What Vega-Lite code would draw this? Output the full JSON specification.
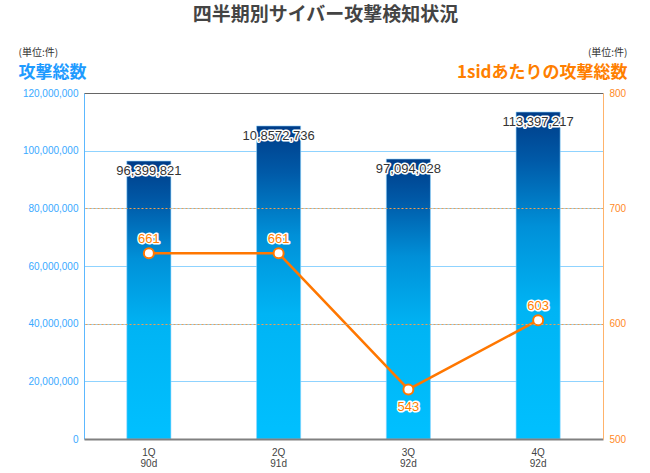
{
  "$schema": "https://vega.github.io/schema/vega-lite/v6.json",
  "width": 519,
  "height": 346,
  "autosize": {"type": "none"},
  "padding": {"left": 84, "top": 93, "right": 47, "bottom": 34},
  "background": "white",
  "view": {"stroke": null},
  "config": {"font": "Liberation Sans"},
  "title": {
    "text": "四半期別サイバー攻撃検知状況",
    "font": "Noto Sans CJK JP",
    "fontSize": 19,
    "fontWeight": "bold",
    "color": "#444444",
    "anchor": "middle",
    "frame": "group",
    "dx": -18,
    "offset": 3,
    "baseline": "bottom"
  },
  "data": {
    "values": [
      {"quarter": "1Q 90d", "attacks": 96399821, "label": "96,399,821", "perSid": 661},
      {"quarter": "2Q 91d", "attacks": 108572736, "label": "10,8572,736", "perSid": 661},
      {"quarter": "3Q 92d", "attacks": 97094028, "label": "97,094,028", "perSid": 543},
      {"quarter": "4Q 92d", "attacks": 113397217, "label": "113,397,217", "perSid": 603}
    ]
  },
  "resolve": {"scale": {"x": "independent", "y": "independent"}},
  "layer": [
    {
      "encoding": {
        "x": {
          "field": "quarter",
          "type": "nominal",
          "sort": null,
          "scale": {"paddingInner": 0.66, "paddingOuter": 0.33},
          "axis": {
            "orient": "bottom",
            "labelExpr": "split(datum.label, ' ')",
            "labelAngle": 0,
            "labelColor": "#444444",
            "labelFontSize": 10,
            "labelLineHeight": 11,
            "labelPadding": 8,
            "ticks": false,
            "domainColor": "#808080",
            "domainWidth": 2,
            "title": "(単位:件)",
            "titleFont": "Noto Sans CJK JP",
            "titleFontSize": 10,
            "titleFontWeight": "normal",
            "titleColor": "#333333",
            "titleX": -66,
            "titleY": -387,
            "titleAlign": "left",
            "titleAngle": 0,
            "titleBaseline": "middle",
            "zindex": 1
          }
        },
        "y": {
          "field": "attacks",
          "type": "quantitative",
          "scale": {"domain": [0, 120000000], "nice": false},
          "axis": {
            "orient": "left",
            "values": [0, 20000000, 40000000, 60000000, 80000000, 100000000, 120000000],
            "format": ",d",
            "labelColor": "#39a9ff",
            "labelFontSize": 10,
            "labelPadding": 6,
            "ticks": false,
            "domainColor": "#5cb8ff",
            "domainWidth": 1,
            "grid": true,
            "gridColor": {"condition": {"test": "datum.value == 0 || datum.value == 120000000", "value": "transparent"}, "value": "#8fd3ff"},
            "gridWidth": 1,
            "title": "攻撃総数",
            "titleFont": "Noto Sans CJK JP",
            "titleFontSize": 17,
            "titleFontWeight": "bold",
            "titleColor": "#1e9bff",
            "titleX": -66,
            "titleY": -21,
            "titleAngle": 0,
            "titleAlign": "left",
            "titleBaseline": "middle"
          }
        }
      },
      "layer": [
        {
          "mark": {
            "type": "bar",
            "stroke": "#8fd3ff",
            "strokeWidth": 0.6,
            "color": {
              "gradient": "linear",
              "x1": 0, "y1": 0, "x2": 0, "y2": 1,
              "stops": [
                {"offset": 0, "color": "#003c87"},
                {"offset": 0.15, "color": "#005aa8"},
                {"offset": 0.35, "color": "#0090d8"},
                {"offset": 0.6, "color": "#00b4f4"},
                {"offset": 1, "color": "#00c0ff"}
              ]
            }
          }
        },
        {
          "mark": {"type": "text", "dy": 14, "baseline": "alphabetic", "fontSize": 13, "stroke": "white", "strokeWidth": 3, "strokeJoin": "round", "fill": "white"},
          "encoding": {"text": {"field": "label"}}
        },
        {
          "mark": {"type": "text", "dy": 14, "baseline": "alphabetic", "fontSize": 13, "fill": "#333333"},
          "encoding": {"text": {"field": "label"}}
        }
      ]
    },
    {
      "encoding": {
        "x": {
          "field": "quarter",
          "type": "nominal",
          "sort": null,
          "scale": {"paddingInner": 0.66, "paddingOuter": 0.33},
          "axis": {
            "orient": "top",
            "labels": false,
            "ticks": false,
            "domainColor": "#666666",
            "domainWidth": 1,
            "title": "(単位:件)",
            "titleFont": "Noto Sans CJK JP",
            "titleFontSize": 10,
            "titleFontWeight": "normal",
            "titleColor": "#333333",
            "titleX": 543,
            "titleY": -41,
            "titleAlign": "right",
            "titleAngle": 0,
            "titleBaseline": "middle",
            "zindex": 1
          }
        },
        "y": {
          "field": "perSid",
          "type": "quantitative",
          "scale": {"domain": [500, 800], "nice": false},
          "axis": {
            "orient": "right",
            "values": [500, 600, 700, 800],
            "labelColor": "#ff8a1f",
            "labelFontSize": 10,
            "labelPadding": 6,
            "ticks": false,
            "domainColor": "#ffb36b",
            "domainWidth": 1,
            "grid": true,
            "gridColor": {"condition": {"test": "datum.value == 500 || datum.value == 800", "value": "transparent"}, "value": "#f0a050"},
            "gridDash": [2, 2],
            "gridWidth": 1,
            "title": "1sidあたりの攻撃総数",
            "titleFont": "Noto Sans CJK JP",
            "titleFontSize": 17,
            "titleFontWeight": "bold",
            "titleColor": "#ff7f00",
            "titleX": 24,
            "titleY": -21,
            "titleAngle": 0,
            "titleAlign": "right",
            "titleBaseline": "middle",
            "zindex": 1
          }
        }
      },
      "layer": [
        {"mark": {"type": "line", "color": "#ff7700", "strokeWidth": 2.5}},
        {"mark": {"type": "point", "shape": "circle", "filled": true, "fill": "white", "stroke": "#ff7700", "strokeWidth": 2, "size": 100, "opacity": 1}},
        {
          "transform": [{"filter": "datum.perSid >= 600"}],
          "mark": {"type": "text", "dy": -10, "baseline": "alphabetic", "fontSize": 13, "stroke": "white", "strokeWidth": 3, "strokeJoin": "round", "fill": "white"},
          "encoding": {"text": {"field": "perSid"}}
        },
        {
          "transform": [{"filter": "datum.perSid >= 600"}],
          "mark": {"type": "text", "dy": -10, "baseline": "alphabetic", "fontSize": 13, "fill": "#ff7f00"},
          "encoding": {"text": {"field": "perSid"}}
        },
        {
          "transform": [{"filter": "datum.perSid < 600"}],
          "mark": {"type": "text", "dy": 22, "baseline": "alphabetic", "fontSize": 13, "stroke": "white", "strokeWidth": 3, "strokeJoin": "round", "fill": "white"},
          "encoding": {"text": {"field": "perSid"}}
        },
        {
          "transform": [{"filter": "datum.perSid < 600"}],
          "mark": {"type": "text", "dy": 22, "baseline": "alphabetic", "fontSize": 13, "fill": "#ff7f00"},
          "encoding": {"text": {"field": "perSid"}}
        }
      ]
    }
  ]
}
